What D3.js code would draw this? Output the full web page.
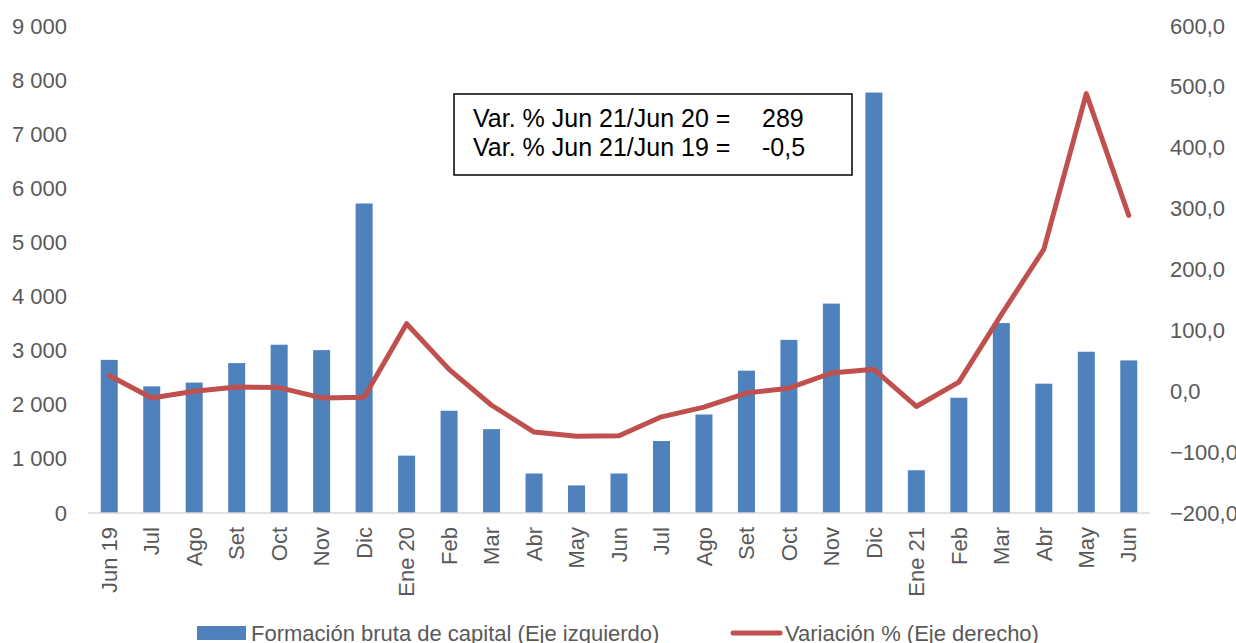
<!DOCTYPE html>
<html>
<head>
<meta charset="utf-8">
<script src="https://cdn.jsdelivr.net/npm/d3@7"></script>
<style>
  body { margin: 0; background: #fff; }
  svg { display: block; font-family: "Liberation Sans", Arial, sans-serif; }
</style>
</head>
<body>
<svg id="chart" width="1236" height="643"></svg>
<script>
// DATA
const months = ["Jun 19","Jul","Ago","Set","Oct","Nov","Dic","Ene 20","Feb","Mar","Abr","May","Jun",
                "Jul","Ago","Set","Oct","Nov","Dic","Ene 21","Feb","Mar","Abr","May","Jun"];
const capital = [2830, 2340, 2410, 2770, 3110, 3010, 5720, 1060, 1890, 1550, 730, 510, 730,
                 1330, 1820, 2630, 3200, 3870, 7770, 790, 2130, 3510, 2390, 2980, 2820];
const variacion = [26, -11, 0, 7, 6, -11, -10, 111, 36, -23, -67, -74, -73,
                   -42, -26, -3, 5, 30, 36, -25, 15, 126, 233, 489, 289];
const leftTicks = [0, 1000, 2000, 3000, 4000, 5000, 6000, 7000, 8000, 9000];
const rightTicks = [-200, -100, 0, 100, 200, 300, 400, 500, 600];
const noteLabels = ["Var. % Jun 21/Jun 20 =", "Var. % Jun 21/Jun 19 ="];
const noteValues = ["289", "-0,5"];

const svg = d3.select("#chart");
const grey = "#595959";
const blue = "#4f81bd";
const red = "#c0504d";

// SCALES
const x = d3.scaleBand().domain(d3.range(months.length)).range([88, 1150])
    .paddingInner(0.6).paddingOuter(0.3);
const yL = d3.scaleLinear().domain([0, 9000]).range([513, 26]);
const yR = d3.scaleLinear().domain([-200, 600]).range([513, 26]);

// AXES
const fmtL = d3.format(",.0f");
svg.append("g")
    .attr("transform", "translate(67,0)")
    .call(d3.axisLeft(yL).tickValues(leftTicks).tickSize(0).tickPadding(0)
        .tickFormat(d => fmtL(d).replace(/,/g, " ")))
    .call(g => g.select(".domain").remove())
    .selectAll("text").attr("fill", grey).attr("font-size", 22).attr("font-family", "Liberation Sans, Arial");

svg.append("g")
    .attr("transform", "translate(1170,0)")
    .call(d3.axisRight(yR).tickValues(rightTicks).tickSize(0).tickPadding(0)
        .tickFormat(d => d3.format(".1f")(d).replace(".", ",")))
    .call(g => g.select(".domain").remove())
    .selectAll("text").attr("fill", grey).attr("font-size", 22).attr("font-family", "Liberation Sans, Arial");

// BARS
svg.append("g").selectAll("rect")
    .data(capital)
    .enter().append("rect")
    .attr("x", (d, i) => x(i))
    .attr("width", x.bandwidth())
    .attr("y", d => yL(d))
    .attr("height", d => yL(0) - yL(d))
    .attr("fill", blue);

// baseline
svg.append("line")
    .attr("x1", 88).attr("x2", 1150)
    .attr("y1", yL(0)).attr("y2", yL(0))
    .attr("stroke", "#d9d9d9").attr("stroke-width", 1.5);

// x labels
svg.append("g").selectAll("text")
    .data(months)
    .enter().append("text")
    .attr("transform", (d, i) => "translate(" + (x(i) + x.bandwidth() / 2) + ",527) rotate(-90)")
    .attr("text-anchor", "end")
    .attr("dy", "0.35em")
    .attr("fill", grey)
    .attr("font-size", 22)
    .text(d => d);

// LINE
const line = d3.line()
    .x((d, i) => x(i) + x.bandwidth() / 2)
    .y(d => yR(d));
svg.append("path")
    .datum(variacion)
    .attr("d", line)
    .attr("fill", "none")
    .attr("stroke", red)
    .attr("stroke-width", 5)
    .attr("stroke-linejoin", "round")
    .attr("stroke-linecap", "round");

// NOTE BOX
svg.append("rect")
    .attr("x", 454).attr("y", 94).attr("width", 398).attr("height", 81)
    .attr("fill", "#fff").attr("stroke", "#000").attr("stroke-width", 1.5);
noteLabels.forEach(function (t, i) {
    svg.append("text").attr("x", 473).attr("y", 127 + i * 29)
        .attr("font-size", 25).attr("fill", "#000").text(t);
    svg.append("text").attr("x", 762).attr("y", 127 + i * 29)
        .attr("font-size", 25).attr("fill", "#000").text(noteValues[i]);
});

// LEGEND
svg.append("rect").attr("x", 197).attr("y", 626).attr("width", 49).attr("height", 14).attr("fill", blue);
svg.append("text").attr("x", 251).attr("y", 641).attr("font-size", 22).attr("fill", grey)
    .text("Formación bruta de capital (Eje izquierdo)");
svg.append("line").attr("x1", 733).attr("x2", 780).attr("y1", 633).attr("y2", 633)
    .attr("stroke", red).attr("stroke-width", 5).attr("stroke-linecap", "round");
svg.append("text").attr("x", 785).attr("y", 641).attr("font-size", 22).attr("fill", grey)
    .text("Variación % (Eje derecho)");
</script>
</body>
</html>
